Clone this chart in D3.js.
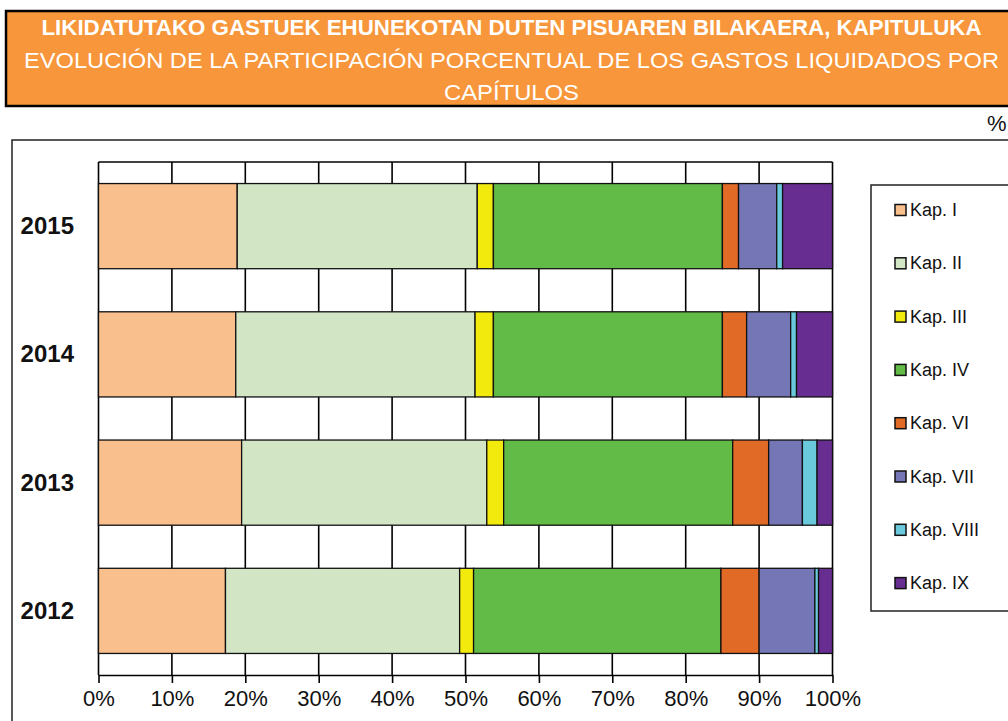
<!DOCTYPE html>
<html lang="es">
<head>
<meta charset="UTF-8">
<title>Gastos liquidados por capítulos</title>
<script src="https://d3js.org/d3.v7.min.js"></script>
<style>
  body { margin: 0; padding: 0; background: #fff; }
  svg { display: block; font-family: "Liberation Sans", Arial, sans-serif; }
  .tick text { font-size: 22px; fill: #111; }
  .tick line, .domain { stroke: #000; stroke-width: 1.6; }
</style>
</head>
<body>
<svg id="chart"></svg>
<script>
// categories (top to bottom)
const years = ["2015", "2014", "2013", "2012"];
const chapters = ["Kap. I", "Kap. II", "Kap. III", "Kap. IV", "Kap. VI", "Kap. VII", "Kap. VIII", "Kap. IX"];
// percentage share per chapter, same order as years
const kapI    = [18.9, 18.7, 19.5, 17.3];
const kapII   = [32.7, 32.6, 33.4, 31.9];
const kapIII  = [2.2, 2.5, 2.3, 1.9];
const kapIV   = [31.2, 31.2, 31.2, 33.7];
const kapVI   = [2.2, 3.3, 4.9, 5.2];
const kapVII  = [5.2, 6.0, 4.6, 7.6];
const kapVIII = [0.8, 0.8, 2.0, 0.5];
const kapIX   = [6.8, 4.9, 2.1, 1.9];
const xTicks = [0, 10, 20, 30, 40, 50, 60, 70, 80, 90, 100];
const colors = ["#f9bf8c", "#d2e6c6", "#f2ea0d", "#62ba47", "#e26a27", "#7476b6", "#6bc9dc", "#682d91"];

const series = [kapI, kapII, kapIII, kapIV, kapVI, kapVII, kapVIII, kapIX];
const rows = years.map((y, i) => {
    const r = { year: y };
    chapters.forEach((c, j) => r[c] = series[j][i]);
    return r;
});

const width = 1008, height = 721;
const svg = d3.select("#chart").attr("width", width).attr("height", height);

// header banner
svg.append("rect")
    .attr("x", 6).attr("y", 11).attr("width", 1012).attr("height", 95)
    .attr("fill", "#f7963a").attr("stroke", "#000").attr("stroke-width", 2.5);

const head = [
    { t: "LIKIDATUTAKO GASTUEK EHUNEKOTAN DUTEN PISUAREN BILAKAERA, KAPITULUKA", y: 35, w: 940, bold: true },
    { t: "EVOLUCIÓN DE LA PARTICIPACIÓN PORCENTUAL DE LOS GASTOS LIQUIDADOS POR", y: 68, w: 975, bold: false },
    { t: "CAPÍTULOS", y: 100, w: 135, bold: false }
];
svg.selectAll(".head").data(head).enter().append("text")
    .attr("class", "head")
    .attr("x", d => 511.5 - d.w / 2).attr("y", d => d.y)
    .attr("textLength", d => d.w).attr("lengthAdjust", "spacingAndGlyphs")
    .attr("fill", "#fff")
    .style("font-family", "'Liberation Sans Narrow', 'Liberation Sans', Arial, sans-serif")
    .style("font-size", "22px")
    .style("font-weight", d => d.bold ? "bold" : "normal")
    .text(d => d.t);

svg.append("text").attr("x", 987).attr("y", 131)
    .style("font-size", "22px").attr("fill", "#111").text("%");

// outer chart frame
svg.append("rect")
    .attr("x", 12).attr("y", 140).attr("width", 1010).attr("height", 600)
    .attr("fill", "none").attr("stroke", "#222").attr("stroke-width", 1.5);

// scales
const x = d3.scaleLinear().domain([0, 100]).range([98.5, 832.5]);
const y = d3.scaleBand().domain(years).range([162, 675])
    .paddingInner(0.336).paddingOuter(0.168);

// grid
svg.append("g").selectAll("line").data(xTicks).enter().append("line")
    .attr("x1", d => x(d)).attr("x2", d => x(d))
    .attr("y1", 162).attr("y2", 675)
    .attr("stroke", "#000").attr("stroke-width", 1.6);
svg.append("line").attr("x1", x(0)).attr("x2", x(100)).attr("y1", 162).attr("y2", 162)
    .attr("stroke", "#000").attr("stroke-width", 1.6);

// stacked bars
const stack = d3.stack().keys(chapters)(rows);
svg.append("g").selectAll("g").data(stack).enter().append("g")
    .attr("fill", (d, i) => colors[i])
    .selectAll("rect").data(d => d).enter().append("rect")
    .attr("x", d => x(d[0]))
    .attr("y", d => y(d.data.year))
    .attr("width", d => x(d[1]) - x(d[0]))
    .attr("height", y.bandwidth())
    .attr("stroke", "#111").attr("stroke-width", 1.3);

// x axis
svg.append("g")
    .attr("transform", "translate(0,675)")
    .call(d3.axisBottom(x).tickValues(xTicks).tickSize(8).tickSizeOuter(0).tickPadding(7)
        .tickFormat(d => d + "%"));

// year labels
svg.selectAll(".yl").data(years).enter().append("text")
    .attr("class", "yl")
    .attr("x", 74).attr("y", d => y(d) + y.bandwidth() / 2 + 8)
    .attr("text-anchor", "end")
    .style("font-size", "24px").style("font-weight", "bold").attr("fill", "#111")
    .text(d => d);

// legend
svg.append("rect")
    .attr("x", 871).attr("y", 185).attr("width", 150).attr("height", 426)
    .attr("fill", "#fff").attr("stroke", "#222").attr("stroke-width", 1.5);
const leg = svg.append("g").selectAll("g").data(chapters).enter().append("g")
    .attr("transform", (d, i) => `translate(895,${204.5 + i * 53.3})`);
leg.append("rect").attr("width", 11).attr("height", 11)
    .attr("fill", (d, i) => colors[i]).attr("stroke", "#111").attr("stroke-width", 1.5);
leg.append("text").attr("x", 15).attr("y", 11.5)
    .style("font-size", "18px").attr("fill", "#111").text(d => d);
</script>
</body>
</html>
